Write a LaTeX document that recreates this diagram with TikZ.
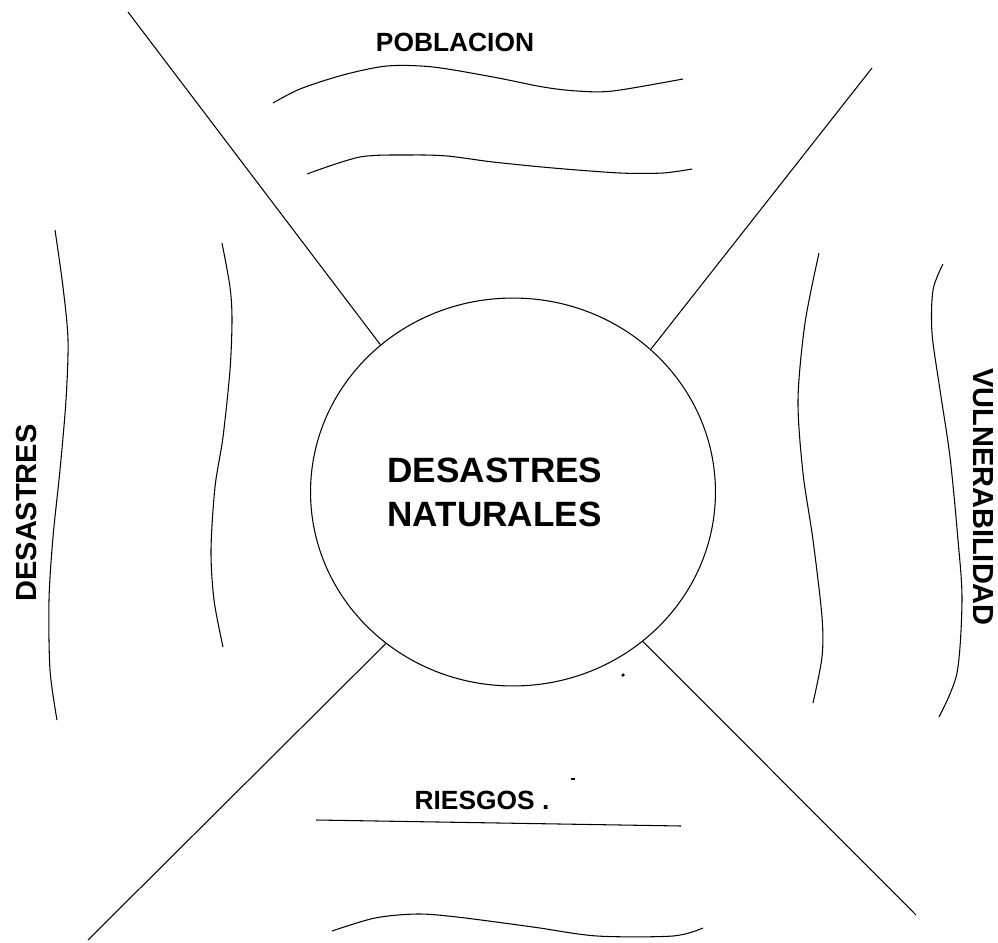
\documentclass[tikz,border=0pt]{standalone}
\usepackage{fontspec}
\setmainfont{Liberation Sans}
\usetikzlibrary{shapes.geometric}

\tikzset{
  etiqueta/.style={font=\bfseries\fontsize{15}{18}\selectfont},
  lateral/.style={font=\bfseries\fontsize{16.5}{20}\selectfont},
  renglon/.style={line width=0.6pt},
}

\begin{document}
\begin{tikzpicture}[x=0.02cm, y=-0.02cm, line width=0.6pt]
    \useasboundingbox (0,0) rectangle (998,943);
    \node[draw, ellipse, minimum width=8.1cm, minimum height=7.76cm] (centro) at (513,492) {};
    \node[align=left, font=\bfseries\fontsize{20}{25}\selectfont] (titulo) at (495,492) {DESASTRES\\NATURALES};
    \coordinate (arribaizq) at (128,12);
    \coordinate (arribader) at (872,68);
    \coordinate (abajoizq) at (88,940);
    \coordinate (abajoder) at (916,915);
    \draw (arribaizq) -- (centro.132);
    \draw (arribader) -- (centro.46);
    \draw (abajoizq) -- (centro.230);
    \draw (abajoder) -- (centro.311);
    \path (455,42) node[etiqueta] (poblacion) {POBLACION};
    \path (482,800) node[etiqueta] (riesgos) {RIESGOS\ .};
    \path (27,513) node[lateral, rotate=90] (desastres) {DESASTRES};
    \path (983,497) node[lateral, rotate=-90] (vulnerabilidad) {VULNERABILIDAD};
    \draw[renglon] plot[smooth] coordinates{(273,103) (300,89) (343,75) (387,66) (433,67) (493,77) (543,87) (577,91) (613,91) (683,79)};
    \draw[renglon] plot[smooth] coordinates{(307,174) (360,157) (410,155) (447,156) (493,162) (553,168) (620,173) (663,173) (692,169)};
    \draw[renglon] (316,820) -- (681,826);
    \draw[renglon] plot[smooth] coordinates{(332,931) (375,918) (417,914) (457,917) (533,927) (597,936) (673,936) (703,928)};
    \draw[renglon] plot[smooth] coordinates{(55,230) (63,287) (68,340) (66,400) (60,470) (53,537) (49,600) (50,670) (57,720)};
    \draw[renglon] plot[smooth] coordinates{(222,243) (230,287) (232,320) (230,370) (223,437) (215,487) (211,550) (214,600) (223,647)};
    \draw[renglon] plot[smooth] coordinates{(819,253) (805,323) (798,400) (803,473) (813,540) (822,617) (822,657) (813,703)};
    \draw[renglon] plot[smooth] coordinates{(943,264) (933,290) (932,333) (940,390) (950,457) (958,540) (962,600) (957,673) (939,717)};
    \fill (623,675) circle(1pt);
    \draw (571,779) -- (575,779);
\end{tikzpicture}
\end{document}
